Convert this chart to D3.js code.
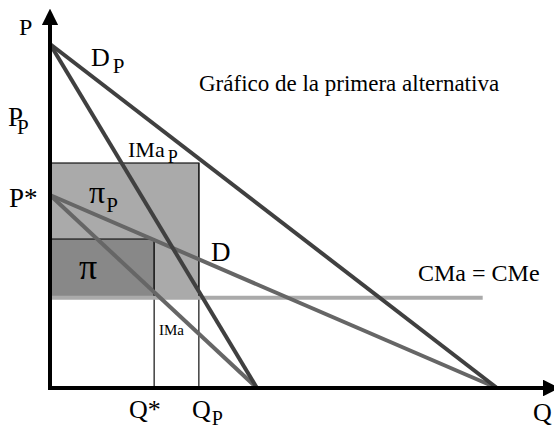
<!DOCTYPE html>
<html>
<head>
<meta charset="utf-8">
<script src="https://cdn.jsdelivr.net/npm/d3@7"></script>
<style>
  body { margin: 0; background: #fff; }
</style>
</head>
<body>
<div id="chart"></div>
<script>
// axis extents (economic units)
var qMax = 11.28, pMax = 10.87;

// curves: [q0, p0] -> [q1, p1]
var demandP   = [[0, 10],   [10, 0]];    // D_P
var margRevP  = [[0, 10],   [4.63, 0]];  // IMa_P
var demand    = [[0, 5.61], [10, 0]];    // D
var margRev   = [[0, 5.61], [4.63, 0]];  // IMa
var cost      = [[0, 2.62], [9.68, 2.62]]; // CMa = CMe

// quantities / prices
var qStar = 2.33, qP = 3.33;
var pStarTop = 4.33, pPTop = 6.54, cma = 2.62;

var width = 554, height = 426;
var serif = "'Liberation Serif', 'Times New Roman', Tinos, 'DejaVu Serif', serif";

var svg = d3.select("#chart")
    .append("svg")
    .attr("width", width)
    .attr("height", height);

var x = d3.scaleLinear().domain([0, 10]).range([50, 497]);
var y = d3.scaleLinear().domain([0, 10]).range([388, 44]);

// profit rectangles
svg.append("rect")
    .attr("x", x(0))
    .attr("y", y(pPTop))
    .attr("width", x(qP) - x(0))
    .attr("height", y(cma) - y(pPTop))
    .attr("fill", "#aaaaaa")
    .attr("stroke", "#222")
    .attr("stroke-width", 1.3);

svg.append("rect")
    .attr("x", x(0))
    .attr("y", y(pStarTop))
    .attr("width", x(qStar) - x(0))
    .attr("height", y(cma) - y(pStarTop))
    .attr("fill", "#888888")
    .attr("stroke", "#222")
    .attr("stroke-width", 1.3);

// vertical guides at Q* and Q_P
svg.selectAll(".guide")
    .data([[qStar, pStarTop], [qP, pPTop]])
    .enter()
    .append("line")
    .attr("class", "guide")
    .attr("x1", d => x(d[0]))
    .attr("x2", d => x(d[0]))
    .attr("y1", d => y(d[1]))
    .attr("y2", y(0))
    .attr("stroke", "#222")
    .attr("stroke-width", 1.3);

// cost line
svg.append("line")
    .attr("x1", x(cost[0][0])).attr("y1", y(cost[0][1]))
    .attr("x2", x(cost[1][0])).attr("y2", y(cost[1][1]))
    .attr("stroke", "#aaaaaa")
    .attr("stroke-width", 4);

var curves = [
    {pts: demand,   color: "#666666"},
    {pts: margRev,  color: "#666666"},
    {pts: demandP,  color: "#404040"},
    {pts: margRevP, color: "#404040"}
];

svg.selectAll(".curve")
    .data(curves)
    .enter()
    .append("line")
    .attr("class", "curve")
    .attr("x1", d => x(d.pts[0][0])).attr("y1", d => y(d.pts[0][1]))
    .attr("x2", d => x(d.pts[1][0])).attr("y2", d => y(d.pts[1][1]))
    .attr("stroke", d => d.color)
    .attr("stroke-width", 4);

// axes with arrows
svg.append("defs").append("marker")
    .attr("id", "arrow")
    .attr("viewBox", "0 0 10 10")
    .attr("refX", 2).attr("refY", 5)
    .attr("markerWidth", 4.2).attr("markerHeight", 4.2)
    .attr("markerUnits", "strokeWidth")
    .attr("orient", "auto")
    .append("path")
    .attr("d", "M0,0 L10,5 L0,10 z")
    .attr("fill", "#000");

svg.append("line")
    .attr("x1", x(0)).attr("y1", y(0) + 2)
    .attr("x2", x(0)).attr("y2", y(pMax) + 8)
    .attr("stroke", "#000").attr("stroke-width", 4)
    .attr("marker-end", "url(#arrow)");

svg.append("line")
    .attr("x1", x(0) - 2).attr("y1", y(0))
    .attr("x2", x(qMax) - 8).attr("y2", y(0))
    .attr("stroke", "#000").attr("stroke-width", 4)
    .attr("marker-end", "url(#arrow)");

// labels: [text, subscript, x, y, size, subSize, subDx]
var labels = [
    ["P", "", 19, 35, 24, 0, 0],
    ["D", "P", 91, 66, 26, 21, 3],
    ["P", "P", 8, 126, 27, 21, -6],
    ["IMa", "P", 128, 157, 22, 18, 3],
    ["P*", "", 9, 207, 27, 0, 0],
    ["\u03c0", "P", 89, 203, 32, 21, 1],
    ["\u03c0", "", 79, 279, 36, 0, 0],
    ["D", "", 211, 261, 27, 0, 0],
    ["CMa = CMe", "", 418, 281, 24, 0, 0],
    ["IMa", "", 159, 335, 15, 0, 0],
    ["Q*", "", 129, 418, 26, 0, 0],
    ["Q", "P", 192, 418, 26, 20, 1],
    ["Q", "", 533, 421, 26, 0, 0],
    ["Gráfico de la primera alternativa", "", 199, 91, 23, 0, 0]
];

labels.forEach(function (l) {
    var t = svg.append("text")
        .attr("x", l[2])
        .attr("y", l[3])
        .attr("font-family", serif)
        .attr("font-size", l[4])
        .attr("fill", "#000")
        .text(l[0]);
    if (l[1]) {
        t.append("tspan")
            .attr("dx", l[6])
            .attr("dy", l[4] * 0.28)
            .attr("font-size", l[5])
            .text(l[1]);
    }
});
</script>
</body>
</html>
